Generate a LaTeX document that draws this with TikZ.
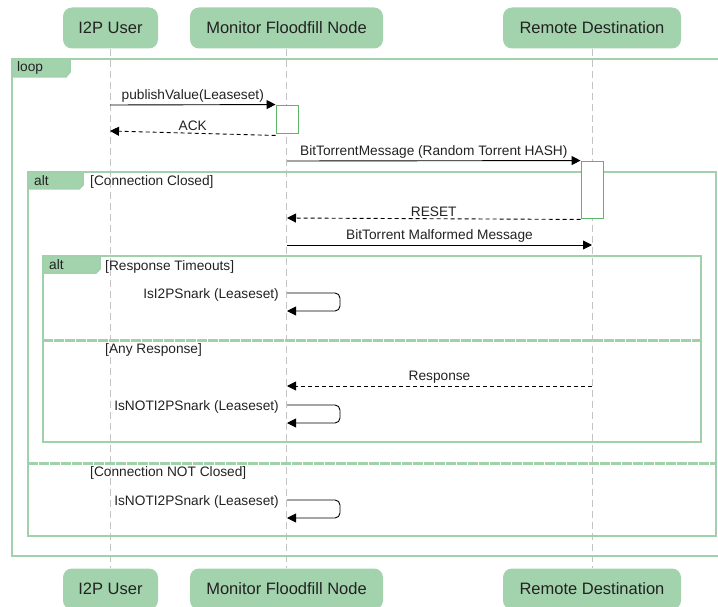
\documentclass[tikz,border=0pt]{standalone}
\usepackage{fontspec}
\setmainfont{Liberation Sans}
\usetikzlibrary{arrows.meta}
\definecolor{frm}{HTML}{A0D1AB}
\definecolor{boxfill}{HTML}{A3D3AD}
\definecolor{actc}{HTML}{5DB56C}
\definecolor{lifec}{HTML}{C4C4C4}
\definecolor{txt}{HTML}{222222}
\begin{document}
\begin{tikzpicture}[x=1pt,y=-1pt,
  actor/.style={draw=none,fill=boxfill,rounded corners=9pt,minimum height=41pt,inner sep=0pt,
    font=\fontsize{16.5}{18}\selectfont,text=txt},
  lifeline/.style={draw=lifec,line width=0.8pt,dash pattern=on 7pt off 4pt},
  frame/.style={draw=frm,line width=2.2pt},
  tab/.style={draw=frm,fill=boxfill,line width=1.5pt},
  sep/.style={draw=frm,line width=3pt,dash pattern=on 10pt off 1pt},
  fonttxt/.style={font=\fontsize{13.7}{15}\selectfont,text=txt,inner sep=1pt},
  msg/.style={draw=black,line width=0.9pt,-{Triangle[length=9pt,width=9pt]}},
  rmsg/.style={msg,dash pattern=on 4pt off 3pt},
  lbl/.style={fonttxt,above=1pt,midway},
  actbox/.style={draw=actc,fill=white,line width=0.9pt,minimum width=22pt,inner sep=0pt}]
\useasboundingbox (0,0) rectangle (718,607);
\clip (0,0) rectangle (718,607);

% actors
\node[actor,minimum width=95pt] (uT) at (110.5,28) {I2P User};
\node[actor,minimum width=193pt] (mT) at (286.5,28) {Monitor Floodfill Node};
\node[actor,minimum width=178pt] (rT) at (592,28) {Remote Destination};
\node[actor,minimum width=95pt] (uB) at (110.5,589) {I2P User};
\node[actor,minimum width=193pt] (mB) at (286.5,589) {Monitor Floodfill Node};
\node[actor,minimum width=178pt] (rB) at (592,589) {Remote Destination};

% lifelines
\draw[lifeline] (uT.south) -- (uB.north);
\draw[lifeline] (mT.south) -- (mB.north);
\draw[lifeline] (rT.south) -- (rB.north);

% loop frame
\draw[frame] (12,59) rectangle (740,556);
\draw[tab] (12,59) -- (70,59) -- (70,72) -- (66,77) -- (12,77) -- cycle;
\node[fonttxt,anchor=west] (loopL) at (16,68) {loop};

% outer alt
\draw[frame] (28,172) rectangle (716,536);
\draw[tab] (28,172) -- (83,172) -- (83,185) -- (79,189) -- (28,189) -- cycle;
\node[fonttxt,anchor=west] (alt1L) at (33,181) {alt};
\node[fonttxt,anchor=west] (c1) at (89,182) {[Connection Closed]};
\draw[sep] (28,463) -- (716,463);
\node[fonttxt,anchor=west] (c2) at (89,473) {[Connection NOT Closed]};

% inner alt
\draw[frame] (43,256) rectangle (701,442);
\draw[tab] (43,256) -- (100,256) -- (100,269) -- (96,273) -- (43,273) -- cycle;
\node[fonttxt,anchor=west] (alt2L) at (48,265) {alt};
\node[fonttxt,anchor=west] (c3) at (104,267) {[Response Timeouts]};
\draw[sep] (43,340) -- (701,340);
\node[fonttxt,anchor=west] (c4) at (104,350) {[Any Response]};

% activation boxes
\node[actbox,minimum height=28pt] (a1) at (287,119) {};
\node[actbox,minimum height=57pt] (a2) at (592,189.5) {};

% messages
\coordinate (m1s) at (110,105);
\draw[msg] (m1s) -- node[lbl]{publishValue(Leaseset)} (a1.north west);
\coordinate (m2e) at (110,131);
\draw[rmsg] ([yshift=-2pt]a1.south west) -- node[lbl]{ACK} (m2e);
\coordinate (m3s) at (287,161);
\draw[msg] (m3s) -- node[lbl]{BitTorrentMessage (Random Torrent HASH)} (a2.north west);
\coordinate (m4e) at (287,218);
\draw[rmsg] ([yshift=-1pt]a2.south west) -- node[lbl]{RESET} (m4e);
\coordinate (m5s) at (287,245);
\coordinate (m5e) at (592,245);
\draw[msg] (m5s) -- node[lbl]{BitTorrent Malformed Message} (m5e);

% self message 1
\coordinate (s1a) at (287,293);
\coordinate (s1b) at (287,311);
\draw[msg,rounded corners=5pt] (s1a) -- ++(53,0) -- ++(0,18) -- (s1b);
\node[fonttxt,anchor=east] (s1L) at (280,295) {IsI2PSnark (Leaseset)};

% response
\coordinate (r1s) at (592,386);
\coordinate (r1e) at (287,386);
\draw[rmsg] (r1s) -- node[lbl]{Response} (r1e);

% self message 2
\coordinate (s2a) at (287,405);
\coordinate (s2b) at (287,423);
\draw[msg,rounded corners=5pt] (s2a) -- ++(53,0) -- ++(0,18) -- (s2b);
\node[fonttxt,anchor=east] (s2L) at (280,407) {IsNOTI2PSnark (Leaseset)};

% self message 3
\coordinate (s3a) at (287,500);
\coordinate (s3b) at (287,518);
\draw[msg,rounded corners=5pt] (s3a) -- ++(53,0) -- ++(0,18) -- (s3b);
\node[fonttxt,anchor=east] (s3L) at (280,502) {IsNOTI2PSnark (Leaseset)};
\end{tikzpicture}
\end{document}
